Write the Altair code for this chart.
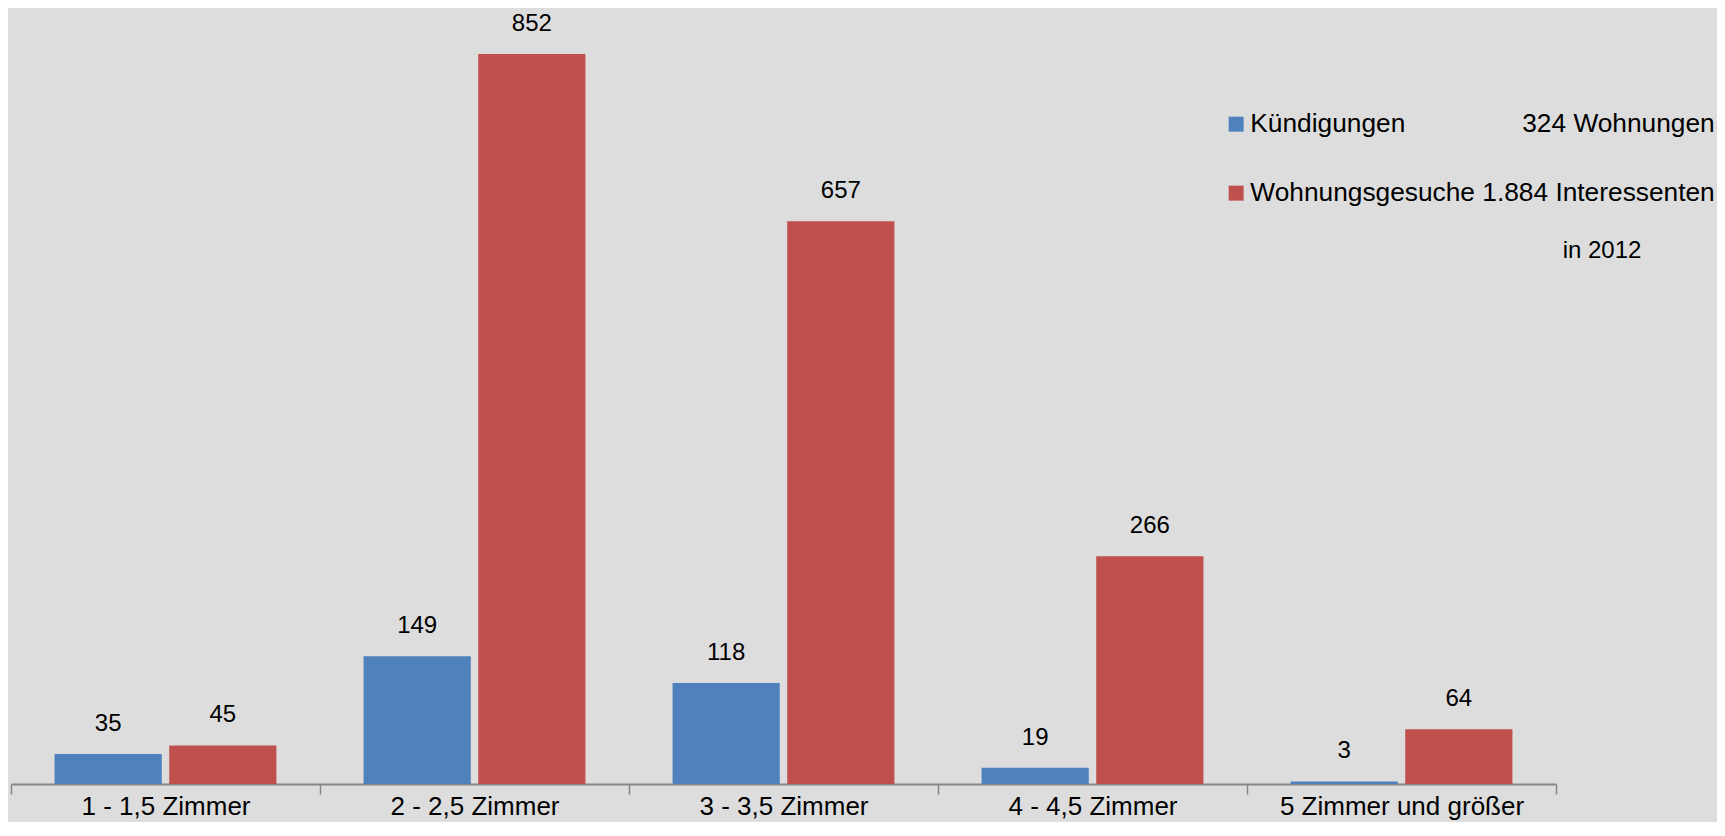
import altair as alt
import pandas as pd

# ---- data ----
categories = ["1 - 1,5 Zimmer", "2 - 2,5 Zimmer", "3 - 3,5 Zimmer",
              "4 - 4,5 Zimmer", "5 Zimmer und größer"]
kuendigungen = [35, 149, 118, 19, 3]
wohnungsgesuche = [45, 852, 657, 266, 64]
series = ["Kündigungen", "Wohnungsgesuche"]
series_totals = ["324 Wohnungen", "1.884 Interessenten"]
colors = ["#4f81bd", "#c0504d"]
note = ["in 2012"]

NB = "\u00a0"
legend_labels = [series[0] + NB * 16 + series_totals[0],
                 series[1] + " " + series_totals[1]]

rows = []
for s, lab, vals in zip(series, legend_labels, [kuendigungen, wohnungsgesuche]):
    for c, v in zip(categories, vals):
        rows.append({"Kategorie": c, "Serie": s, "Legende": lab, "Wert": v})
df = pd.DataFrame(rows)

FONT = "Liberation Sans"
AXIS_GREY = "#868686"

x = alt.X("Kategorie:N", sort=categories,
          scale=alt.Scale(paddingInner=0, paddingOuter=0),
          axis=alt.Axis(title=None, labelAngle=0, labelFontSize=26, labelFont=FONT,
                        labelColor="#000000", labelLimit=0, tickBand="extent",
                        tickSize=10, tickColor=AXIS_GREY, tickWidth=1.5,
                        domainColor=AXIS_GREY, domainWidth=2, labelPadding=-1,
                        grid=False))
xo = alt.XOffset("Serie:N", sort=series,
                 scale=alt.Scale(paddingInner=0.065, paddingOuter=0.38))
y = alt.Y("Wert:Q", scale=alt.Scale(domain=[0, 900], nice=False), axis=None)

base = alt.Chart(df)

bars = base.mark_bar().encode(
    x=x, xOffset=xo, y=y,
    color=alt.Color("Legende:N", sort=legend_labels,
                    scale=alt.Scale(domain=legend_labels, range=colors),
                    legend=alt.Legend(orient="none", legendX=1212, legendY=98,
                                      title=None, symbolType="square",
                                      symbolSize=225, symbolStrokeWidth=0,
                                      labelFontSize=26.3, labelFont=FONT,
                                      labelColor="#000000", labelLimit=900,
                                      labelOffset=1, rowPadding=42, padding=0)),
)

labels = base.mark_text(baseline="alphabetic", dy=-23, fontSize=24, font=FONT,
                        color="#000000").encode(x=x, xOffset=xo, y=y, text="Wert:Q")

note_layer = alt.Chart(pd.DataFrame({"t": note})).mark_text(
    baseline="alphabetic", align="center", fontSize=24, font=FONT, color="#000000"
).encode(x=alt.value(1591), y=alt.value(245), text="t:N")

chart = alt.layer(bars, labels, note_layer).properties(
    width=1545, height=771,
    autosize=alt.AutoSizeParams(type="none"),
    padding={"left": 3, "top": 5, "right": 161, "bottom": 38},
    background="#dddddd",
).configure_view(stroke=None)

chart.save("out.html", embed_options={"renderer": "svg", "actions": False})
